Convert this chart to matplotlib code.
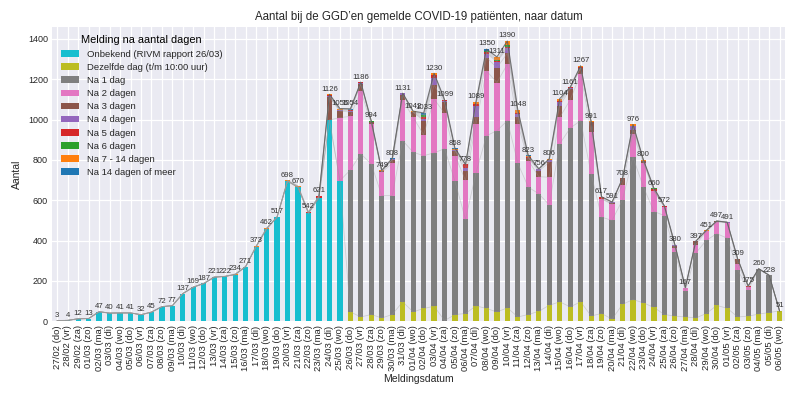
import matplotlib
matplotlib.use('Agg')
import matplotlib.pyplot as plt
import numpy as np

plt.rcParams['font.family'] = ['Liberation Sans', 'DejaVu Sans']

dates = [
    '27/02 (do)', '28/02 (vr)', '29/02 (za)', '01/03 (zo)', '02/03 (ma)', '03/03 (di)', '04/03 (wo)',
    '05/03 (do)', '06/03 (vr)', '07/03 (za)', '08/03 (zo)', '09/03 (ma)', '10/03 (di)', '11/03 (wo)',
    '12/03 (do)', '13/03 (vr)', '14/03 (za)', '15/03 (zo)', '16/03 (ma)', '17/03 (di)', '18/03 (wo)',
    '19/03 (do)', '20/03 (vr)', '21/03 (za)', '22/03 (zo)', '23/03 (ma)', '24/03 (di)', '25/03 (wo)',
    '26/03 (do)', '27/03 (vr)', '28/03 (za)', '29/03 (zo)', '30/03 (ma)', '31/03 (di)', '01/04 (wo)',
    '02/04 (do)', '03/04 (vr)', '04/04 (za)', '05/04 (zo)', '06/04 (ma)', '07/04 (di)', '08/04 (wo)',
    '09/04 (do)', '10/04 (vr)', '11/04 (za)', '12/04 (zo)', '13/04 (ma)', '14/04 (di)', '15/04 (wo)',
    '16/04 (do)', '17/04 (vr)', '18/04 (za)', '19/04 (zo)', '20/04 (ma)', '21/04 (di)', '22/04 (wo)',
    '23/04 (do)', '24/04 (vr)', '25/04 (za)', '26/04 (zo)', '27/04 (ma)', '28/04 (di)', '29/04 (wo)',
    '30/04 (do)', '01/05 (vr)', '02/05 (za)', '03/05 (zo)', '04/05 (ma)', '05/05 (di)', '06/05 (wo)',
]

legend_labels = ['Onbekend (RIVM rapport 26/03)', 'Dezelfde dag (t/m 10:00 uur)', 'Na 1 dag',
                 'Na 2 dagen', 'Na 3 dagen', 'Na 4 dagen', 'Na 5 dagen', 'Na 6 dagen',
                 'Na 7 - 14 dagen', 'Na 14 dagen of meer']
colors = ['#17becf', '#bcbd22', '#7f7f7f', '#e377c2', '#8c564b', '#9467bd',
          '#d62728', '#2ca02c', '#ff7f0e', '#1f77b4']

z26 = [0] * 26
onbekend = [3, 4, 12, 13, 47, 40, 41, 41, 32, 45, 72, 77, 137, 169, 187, 218, 222, 231, 271, 370,
            458, 517, 695, 664, 535, 613, 998, 697] + [0] * 42
zelfde_dag = [0] * 28 + [46, 21, 33, 16, 33, 96, 46, 63, 74, 3, 33, 38, 76, 63, 46, 66, 21, 33, 49, 79,
                         96, 71, 96, 26, 38, 10, 84, 107, 91, 68, 33, 25, 21, 16, 38, 78, 64, 21, 25, 35, 43, 51]
na_1 = [0] * 28 + [704, 809, 747, 607, 590, 800, 792, 758, 761, 853, 660, 467, 660, 857, 899, 929, 762, 632,
                   583, 498, 784, 887, 899, 705, 478, 490, 518, 706, 574, 476, 491, 318, 127, 322, 363, 356,
                   348, 235, 128, 225, 185, 0]
na_2 = [0] * 27 + [313, 266, 313, 198, 116, 160, 201, 173, 104, 267, 175, 128, 193, 242, 322, 239, 280, 195,
                   132, 85, 137, 131, 140, 233, 209, 91, 79, 74, 116, 118, 104, 42, 22, 17, 42, 44, 57, 76,
                   29, 17, 0, 0, 0]
na_3 = z26 + [112, 32, 22, 33, 10, 5, 17, 26, 25, 70, 69, 54, 22, 46, 33, 66, 74, 54, 33, 13, 28, 74, 58, 53,
              30, 46, 0, 5, 32, 19, 12, 0, 0, 10, 0, 17, 3, 6, 0, 24, 0, 0, 0, 0]
na_4 = z26 + [6, 4, 6, 5, 0, 0, 3, 8, 0, 8, 35, 6, 6, 17, 58, 20, 30, 25, 16, 0, 8, 12, 16, 4, 0, 0, 0, 7, 0,
              22, 0, 0, 0, 5, 0, 0, 0, 0, 3, 0, 0, 0, 0, 0]
na_5 = [0] * 24 + [5, 6, 4, 3, 6, 5, 0, 0, 0, 0, 3, 8, 16, 4, 0, 17, 6, 6, 5, 6, 8, 5, 0, 0, 8, 6, 4, 0, 10,
                   0, 0, 0, 0, 6, 6, 0, 2, 0, 0, 0, 0, 0, 5, 0, 0, 0]
na_6 = z26 + [0, 0, 0, 0, 3, 0, 0, 0, 0, 10, 0, 0, 0, 0, 4, 8, 5, 10, 0, 0, 3, 0, 0, 0, 0, 0, 0, 0, 0, 0, 0,
              6, 0, 0, 0, 0, 0, 0, 0, 0, 0, 0, 0, 0]
na_7_14 = [0] * 17 + [3, 0, 3, 4, 0, 3, 6, 2, 2, 6, 6, 0, 0, 0, 5, 0, 0, 3, 4, 8, 4, 5, 0, 10, 0, 13, 20, 13,
                      4, 0, 6, 11, 0, 5, 5, 0, 0, 0, 6, 5, 0, 0, 0, 0, 0, 3, 0, 0, 0, 0, 0, 0, 0]
na_14 = [0] * 15 + [3] + [0] * 12 + [4, 0, 3, 0, 5, 0, 0, 8, 0, 0, 4, 0, 0, 8, 0, 0, 0, 4, 0, 0, 0, 0, 0,
                                      0, 0, 0, 0, 0, 0, 0, 0, 0, 0, 0, 0, 0, 0, 0, 0, 0, 0, 0]

series = [onbekend, zelfde_dag, na_1, na_2, na_3, na_4, na_5, na_6, na_7_14, na_14]
data = np.array(series, dtype=float)
cum = np.cumsum(data, axis=0)
totals = cum[-1]
x = np.arange(len(dates))

fig = plt.figure(figsize=(8, 3.97), dpi=100)
ax = fig.add_axes([0.065, 0.191, 0.916, 0.741])
ax.set_facecolor('#eaeaf2')
for s in ax.spines.values():
    s.set_visible(False)
ax.grid(True, color='white', linewidth=0.9)
ax.set_axisbelow(True)

bottom = np.zeros(len(dates))
for vals, col, lab in zip(data, colors, legend_labels):
    ax.bar(x, vals, width=0.5, bottom=bottom, color=col, label=lab, zorder=2)
    bottom += vals

# lijnen langs de cumulatieve niveaus
for level in cum[1:-1]:
    ax.plot(x, level, color='#999999', linewidth=0.6, alpha=0.35, zorder=3)
# totaal: licht in de beginperiode, donkerder daarna
ax.plot(x[:26], totals[:26], color='#999999', linewidth=0.7, alpha=0.6, zorder=3)
ax.plot(x[25:], totals[25:], color='#555555', linewidth=0.8, alpha=0.75, zorder=3)

for xi, t in zip(x, totals):
    ax.text(xi, t + 8, '%d' % t, ha='center', va='bottom', fontsize=5.6, color='#333333', zorder=4)

ax.set_xlim(-0.5, len(dates) - 0.5)
ax.set_ylim(0, 1459.5)
ax.set_yticks(range(0, 1401, 200))
ax.set_xticks(x)
ax.set_xticklabels(dates, rotation=90, fontsize=6.8, color='#262626')
ax.tick_params(axis='y', labelsize=6.5, labelcolor='#262626')
ax.tick_params(length=0, pad=3)

ax.set_title('Aantal bij de GGD’en gemelde COVID-19 patiënten, naar datum', fontsize=8.3,
             color='#262626', pad=5)
ax.set_xlabel('Meldingsdatum', fontsize=7.5, color='#262626', labelpad=2)
ax.set_ylabel('Aantal', fontsize=7.5, color='#262626')

leg = ax.legend(loc='upper left', title='Melding na aantal dagen', fontsize=6.8,
                title_fontsize=7.9, frameon=False, labelspacing=0.44)
for t in leg.get_texts():
    t.set_color('#262626')

fig.savefig('out.png', dpi=100)
